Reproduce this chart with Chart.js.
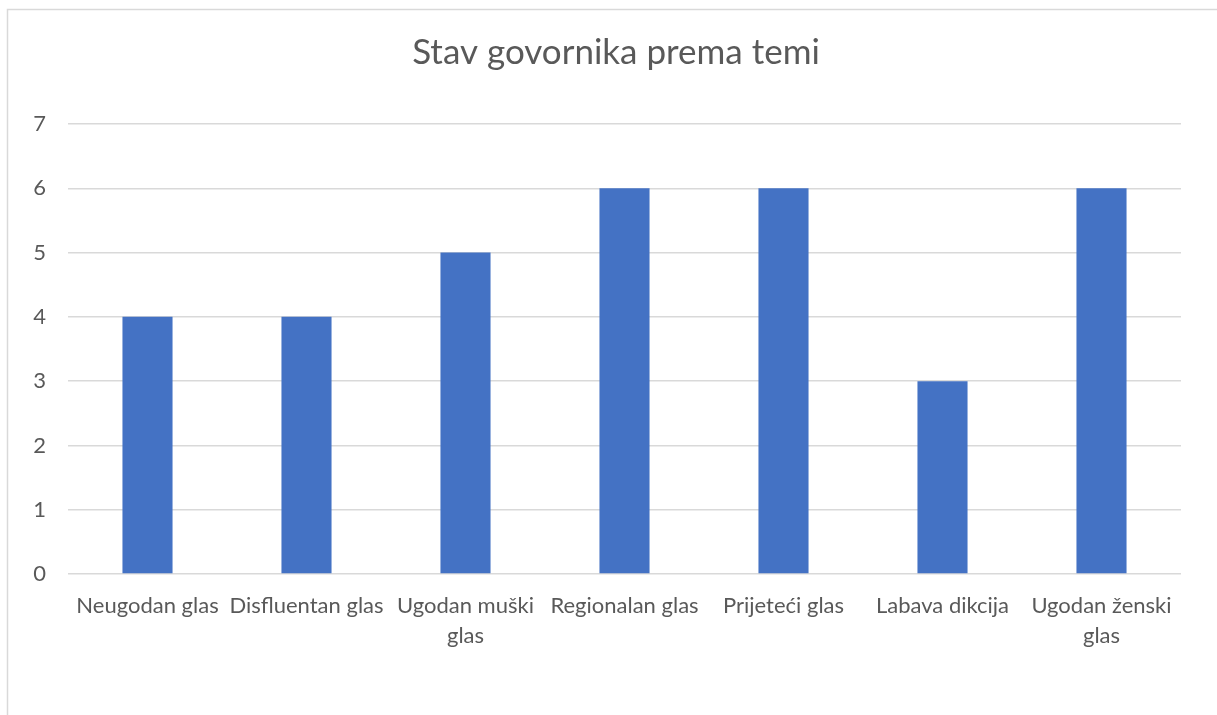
<!DOCTYPE html>
<html>
<head>
<meta charset="utf-8">
<script src="https://cdn.jsdelivr.net/npm/chart.js@4"></script>
<style>
  html, body { margin: 0; padding: 0; background: #fff; }
  #wrap { position: relative; width: 1217px; height: 715px; }
</style>
</head>
<body>
<div id="wrap"><canvas id="chart"></canvas></div>
<script>
// data
const categories = [
  "Neugodan glas",
  "Disfluentan glas",
  ["Ugodan muški", "glas"],
  "Regionalan glas",
  "Prijeteći glas",
  "Labava dikcija",
  ["Ugodan ženski", "glas"]
];
const values = [4, 4, 5, 6, 6, 3, 6];
const yTicks = [0, 1, 2, 3, 4, 5, 6, 7];

const textColor = "#595959";
const gridColor = "#d9d9d9";
const fontFamily = "Lato, 'Open Sans', sans-serif";

// light frame round the chart, like the office export
const framePlugin = {
  id: "frame",
  beforeDraw(chart) {
    const ctx = chart.ctx;
    ctx.save();
    ctx.fillStyle = "#fff";
    ctx.fillRect(0, 0, chart.width, chart.height);
    ctx.strokeStyle = gridColor;
    ctx.lineWidth = 1.5;
    ctx.beginPath();
    ctx.moveTo(7.5, chart.height);
    ctx.lineTo(7.5, 9.5);
    ctx.lineTo(chart.width, 9.5);
    ctx.stroke();
    ctx.restore();
  }
};

// the original title is centred a bit right of the plot, nudge its box
const titleShift = {
  id: "titleShift",
  afterLayout(chart) {
    if (chart.titleBlock) chart.titleBlock.left = 51;
  }
};

new Chart(document.getElementById("chart"), {
  type: "bar",
  data: {
    labels: categories,
    datasets: [{
      data: values,
      backgroundColor: "#4472c4",
      barPercentage: 0.315,
      categoryPercentage: 1
    }]
  },
  options: {
    responsive: true,
    maintainAspectRatio: false,
    animation: false,
    layout: { padding: { left: 0, right: 36, top: 0, bottom: 0 } },
    plugins: {
      legend: { display: false },
      tooltip: { enabled: false },
      title: {
        display: true,
        text: "Stav govornika prema temi",
        color: textColor,
        font: { family: fontFamily, size: 35, weight: "normal" },
        padding: { top: 32, bottom: 50 }
      }
    },
    scales: {
      x: {
        grid: { display: false, drawTicks: false },
        border: { display: false },
        ticks: {
          color: textColor,
          font: { family: fontFamily, size: 22, lineHeight: 1.36 },
          padding: 17,
          maxRotation: 0,
          autoSkip: false
        },
        afterFit(scale) { scale.height = 141; }
      },
      y: {
        min: 0,
        max: 7,
        grid: { color: gridColor, lineWidth: 1.5, drawTicks: false },
        border: { display: false },
        afterBuildTicks(scale) { scale.ticks = yTicks.map(v => ({ value: v })); },
        ticks: {
          color: textColor,
          font: { family: fontFamily, size: 22 },
          padding: 22
        },
        afterFit(scale) { scale.width = 68; }
      }
    }
  },
  plugins: [framePlugin, titleShift]
});
</script>
</body>
</html>
